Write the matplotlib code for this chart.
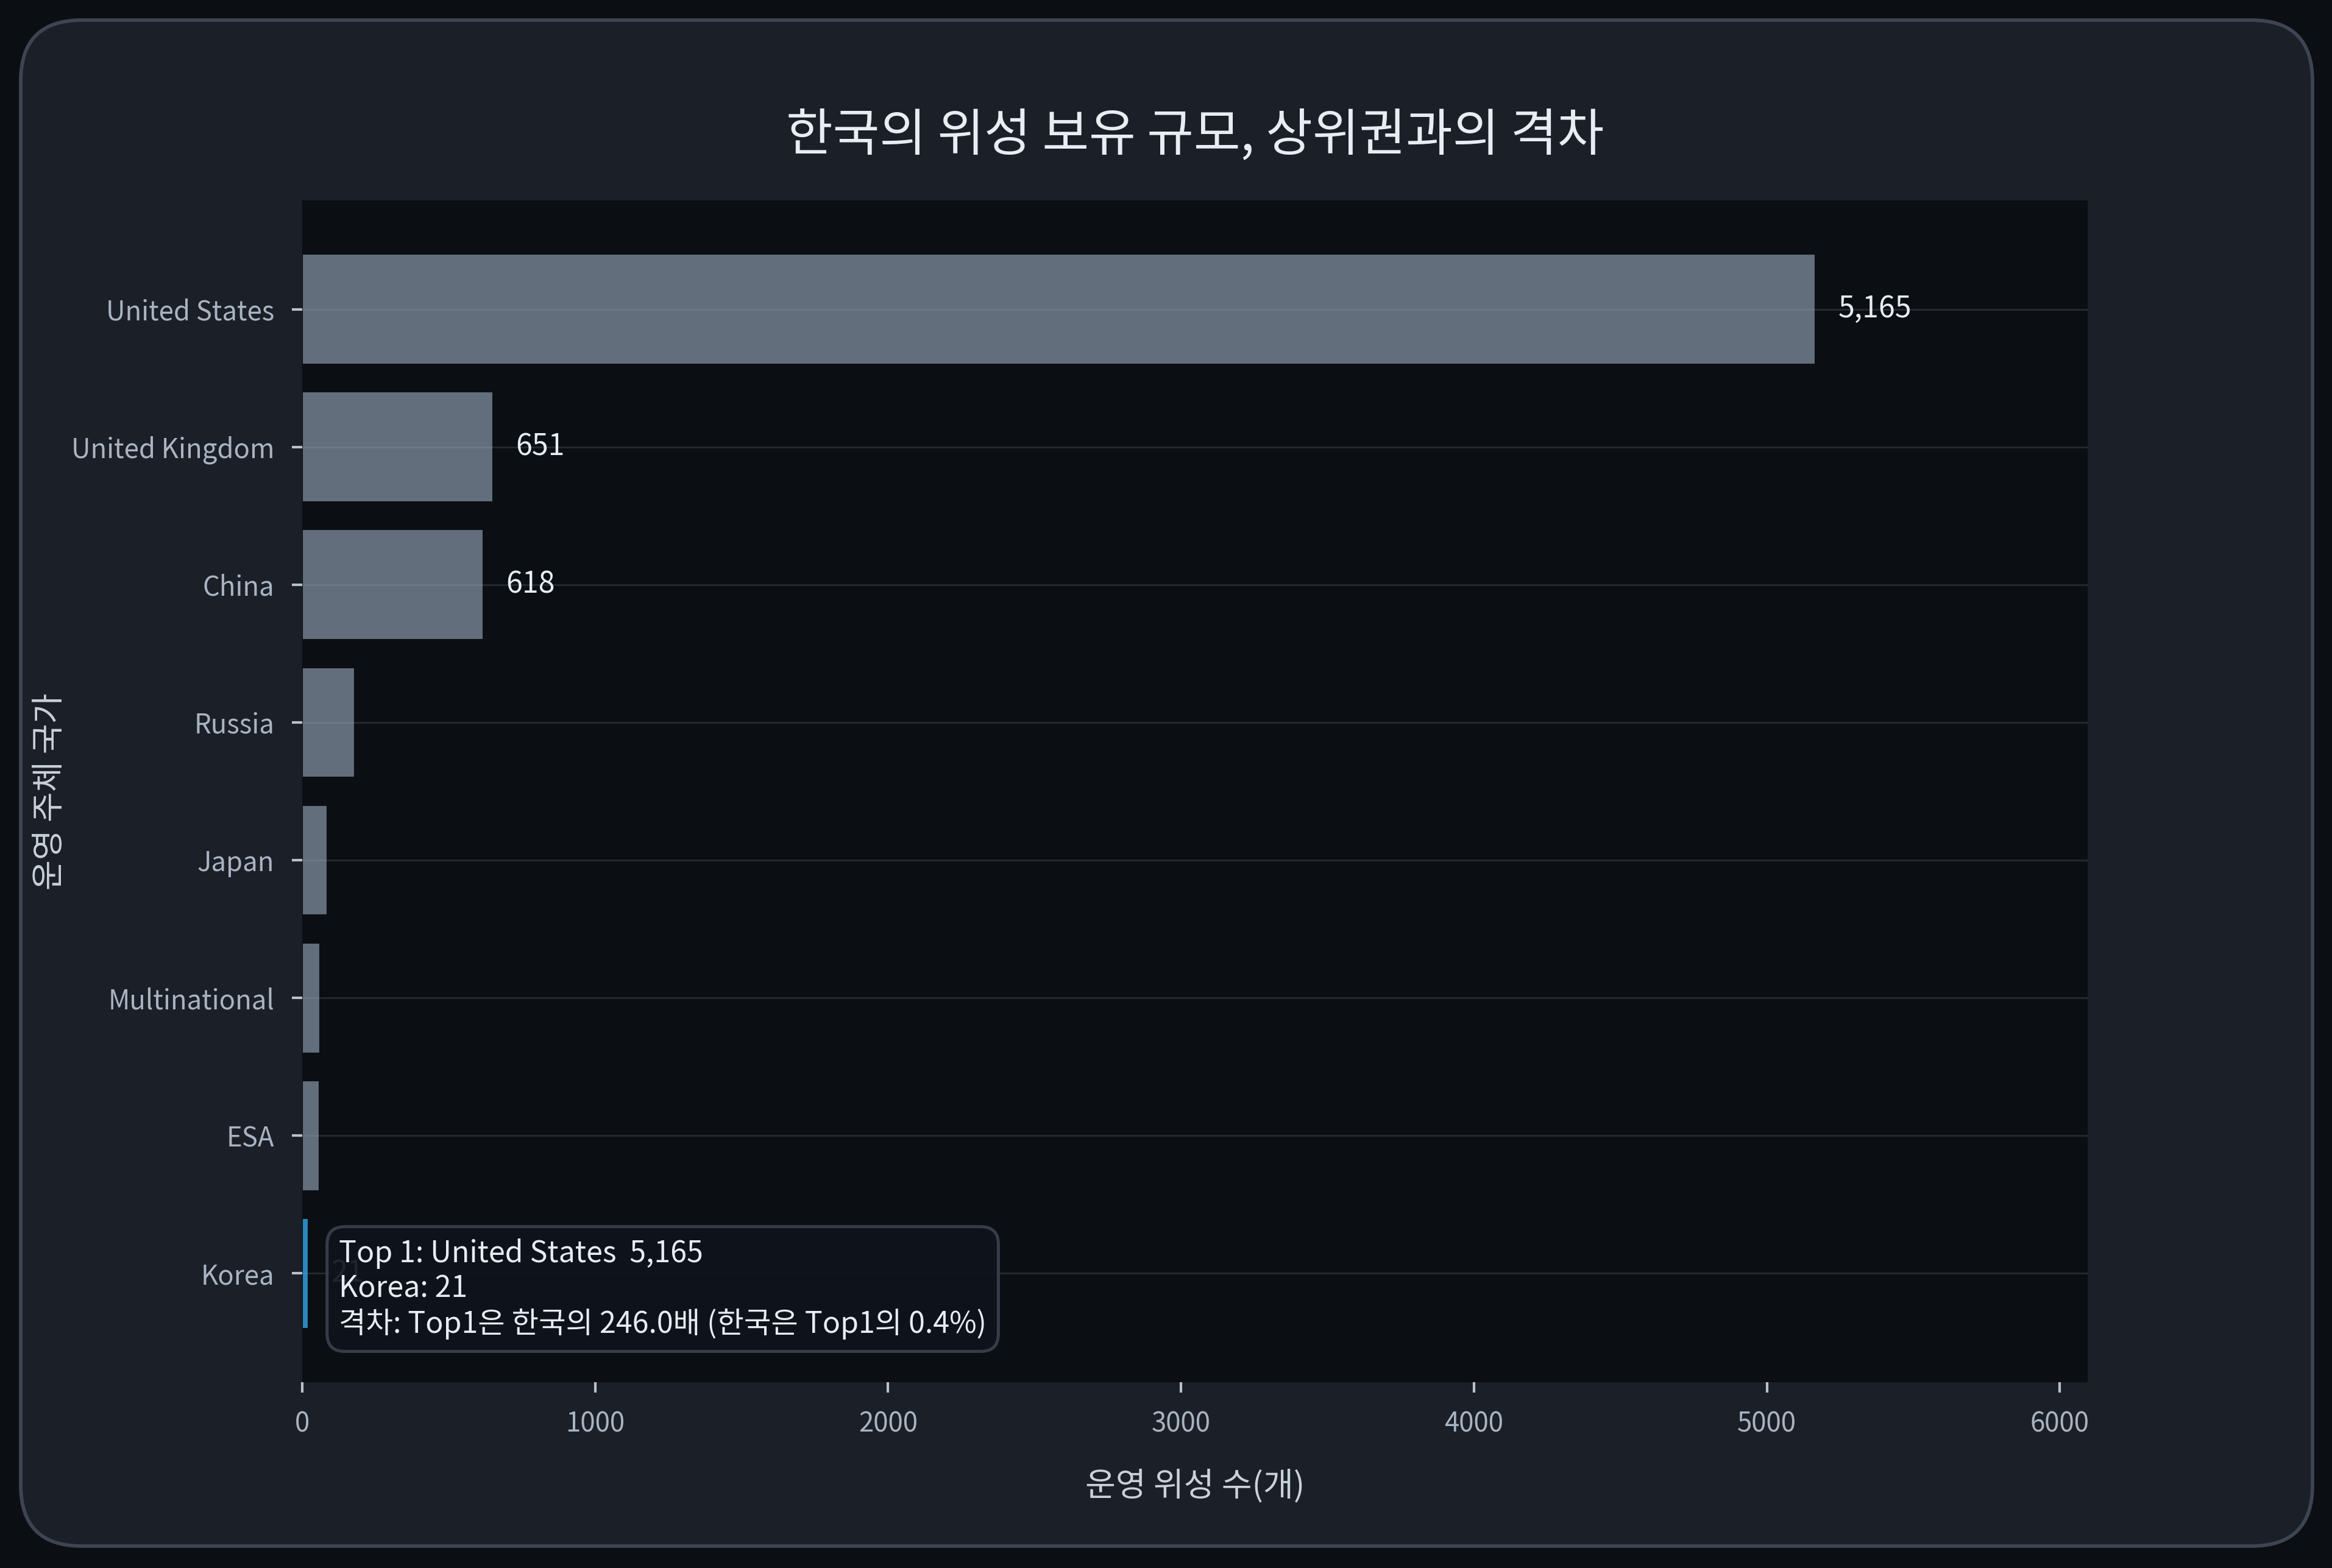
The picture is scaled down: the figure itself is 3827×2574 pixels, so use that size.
import matplotlib
matplotlib.use("Agg")
import matplotlib.pyplot as plt
from matplotlib.patches import FancyBboxPatch

plt.rcParams["font.family"] = ["Noto Sans CJK KR", "DejaVu Sans"]

# data (top to bottom)
countries = ["United States", "United Kingdom", "China", "Russia",
             "Japan", "Multinational", "ESA", "Korea"]
satellites = [5165, 651, 618, 179, 85, 60, 59, 21]
highlight = "Korea"

BG = "#0b0e13"
PANEL = "#1b1f27"
PANEL_EDGE = "#3d4452"
BAR = "#626e7c"
KOREA = "#2b87c0"
TICK = "#a9b4c2"
TEXT = "#e6edf3"

W, H, DPI = 3827, 2574, 300
fig = plt.figure(figsize=(W / DPI, H / DPI), dpi=DPI, facecolor=BG)

# rounded card behind the chart
r = 100 / W
card = FancyBboxPatch(
    (34 / W, 36 / H), (3795 - 34) / W, (2538 - 33) / H,
    boxstyle=f"round,pad=0,rounding_size={r}",
    mutation_aspect=W / H,
    transform=fig.transFigure, facecolor=PANEL, edgecolor=PANEL_EDGE,
    linewidth=1.4, zorder=-10,
)
fig.patches.append(card)

ax = fig.add_axes([496 / W, 1 - 2269 / H, (3426 - 496) / W, (2269 - 329) / H])
ax.set_zorder(1)
ax.set_facecolor(BG)

y = list(range(len(countries)))
colors = [KOREA if c == highlight else BAR for c in countries]
ax.barh(y, satellites, height=0.8, color=colors, edgecolor=BG,
        linewidth=0.5, zorder=2)
ax.invert_yaxis()

top = max(satellites)
ax.set_xlim(0, top * 1.18)
ax.set_xticks([0, 1000, 2000, 3000, 4000, 5000, 6000])
ax.set_yticks(y)
ax.set_yticklabels(countries)

# grid over the bars
ax.set_axisbelow(False)
ax.grid(axis="y", color="#9aa4b2", alpha=0.18, linewidth=0.7, zorder=3)
ax.grid(axis="x", visible=False)

for s in ax.spines.values():
    s.set_visible(False)
ax.tick_params(colors="#b8c2cc", labelcolor=TICK, labelsize=10.5, length=4,
               width=1, pad=7)

# value labels: top 3 and Korea
for i, (c, v) in enumerate(zip(countries, satellites)):
    if i < 3 or c == highlight:
        ax.text(v + top * 0.015, i, f"{v:,}", va="center", ha="left",
                fontsize=11.6, color=TEXT, zorder=4)

ax.set_xlabel("운영 위성 수(개)", fontsize=13, color="#c9d1db")
ax.set_ylabel("운영 주체 국가", fontsize=13, color="#c9d1db")
ax.xaxis.set_label_coords(0.5, -(2412 - 2269) / 1940)
ax.yaxis.set_label_coords((110 - 496) / 2930, 0.5)

fig.text((496 + 3426) / 2 / W, 1 - 222 / H, "한국의 위성 보유 규모, 상위권과의 격차",
         ha="center", va="center", fontsize=20, color=TEXT)

kr = satellites[countries.index(highlight)]
ratio = top / kr
share = kr / top * 100
note = (f"Top 1: {countries[0]}  {top:,}\n"
        f"{highlight}: {kr}\n"
        f"격차: Top1은 한국의 {ratio:.1f}배 (한국은 Top1의 {share:.1f}%)")
ax.text(0.0205, 0.036, note, transform=ax.transAxes, ha="left", va="bottom",
        fontsize=11.6, color=TEXT, zorder=6, linespacing=1.2,
        bbox=dict(boxstyle="round,pad=0.4,rounding_size=0.6", facecolor="#0f141c",
                  edgecolor="#3a414c", linewidth=1.2, alpha=0.92))

fig.savefig("out.png", dpi=DPI, facecolor=BG)
